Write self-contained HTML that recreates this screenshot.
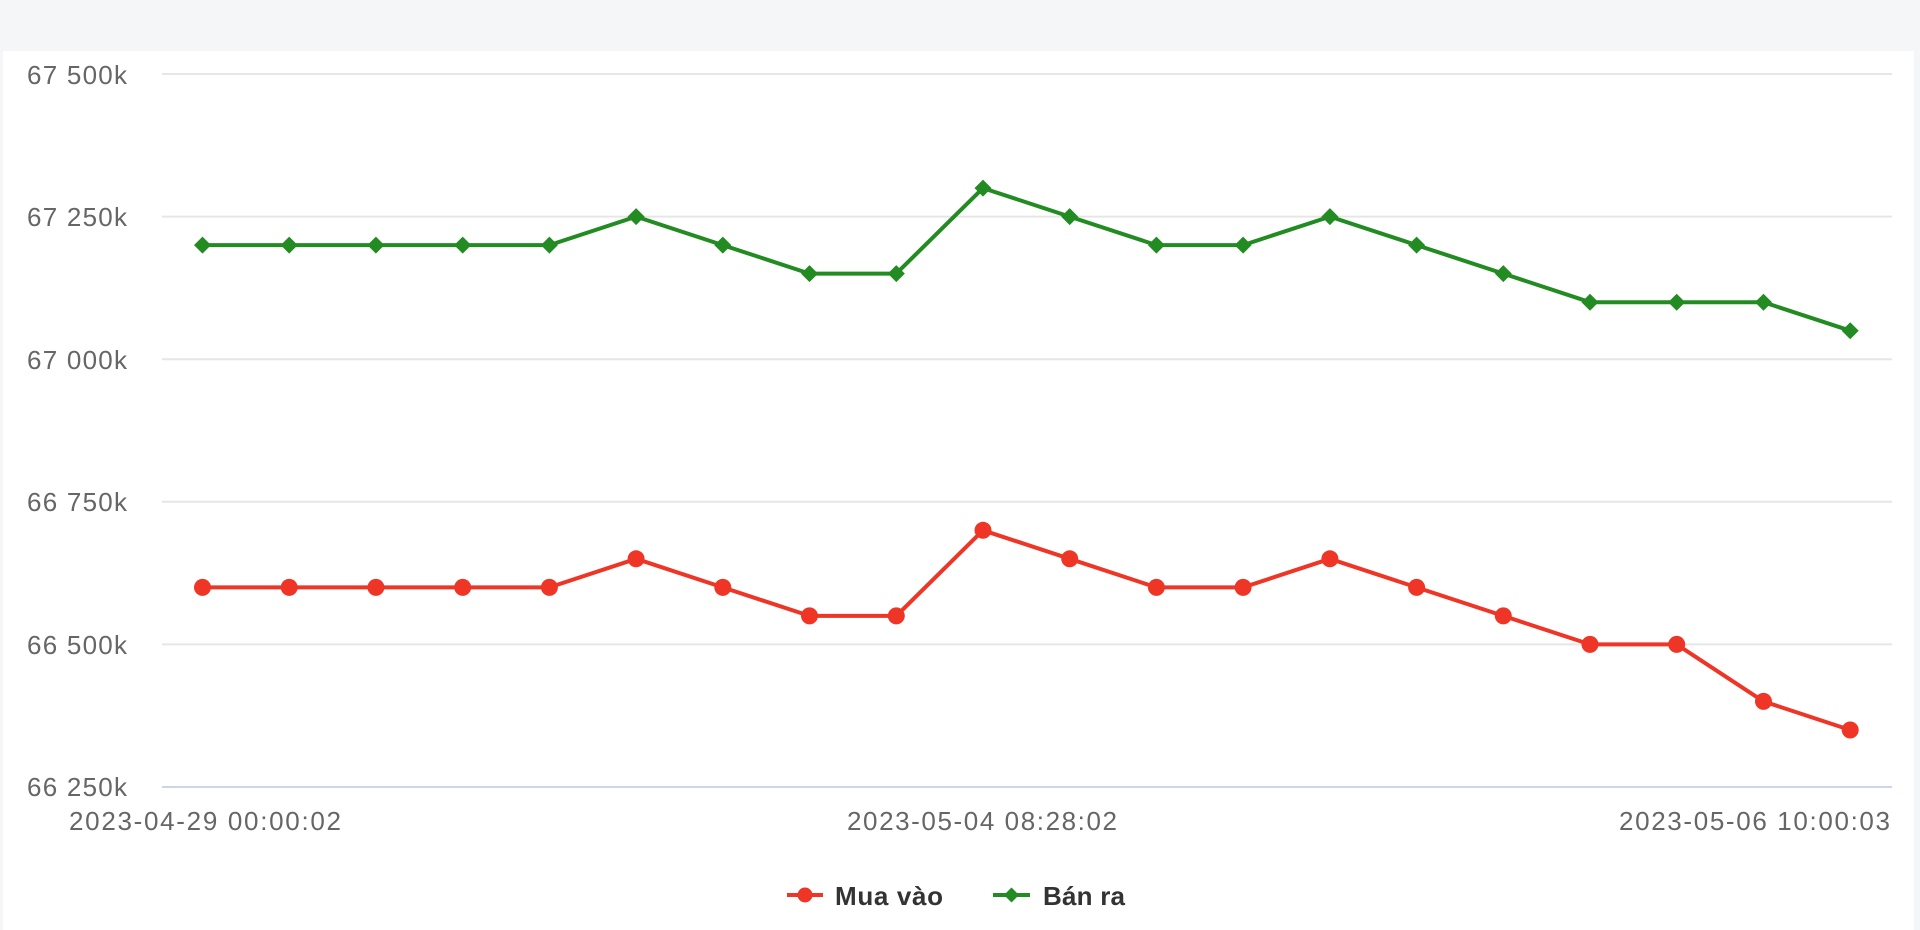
<!DOCTYPE html>
<html>
<head>
<meta charset="utf-8">
<style>
html,body{margin:0;padding:0;width:1920px;height:930px;overflow:hidden;background:#f5f6f8;}
svg{display:block;}
text{font-family:"Liberation Sans",sans-serif;}
</style>
</head>
<body>
<svg width="1920" height="930" viewBox="0 0 1920 930" xmlns="http://www.w3.org/2000/svg">
  <rect x="0" y="0" width="1920" height="930" fill="#f5f6f8"/>
  <rect x="3" y="51" width="1911" height="879" fill="#ffffff"/>

  <!-- gridlines -->
  <g stroke="#e6e6e6" stroke-width="2">
    <line x1="162" y1="74" x2="1892" y2="74"/>
    <line x1="162" y1="216.6" x2="1892" y2="216.6"/>
    <line x1="162" y1="359.2" x2="1892" y2="359.2"/>
    <line x1="162" y1="501.8" x2="1892" y2="501.8"/>
    <line x1="162" y1="644.4" x2="1892" y2="644.4"/>
  </g>
  <line x1="162" y1="787" x2="1892" y2="787" stroke="#ccd6eb" stroke-width="2"/>

  <!-- y labels -->
  <g fill="#666666" font-size="26" text-anchor="end">
    <text x="127" y="84" textLength="100" lengthAdjust="spacing">67 500k</text>
    <text x="127" y="226" textLength="100" lengthAdjust="spacing">67 250k</text>
    <text x="127" y="369" textLength="100" lengthAdjust="spacing">67 000k</text>
    <text x="127" y="511" textLength="100" lengthAdjust="spacing">66 750k</text>
    <text x="127" y="654" textLength="100" lengthAdjust="spacing">66 500k</text>
    <text x="127" y="796" textLength="100" lengthAdjust="spacing">66 250k</text>
  </g>

  <!-- x labels -->
  <g fill="#666666" font-size="26">
    <text x="69" y="830" textLength="272" lengthAdjust="spacing">2023-04-29 00:00:02</text>
    <text x="847" y="830" textLength="270" lengthAdjust="spacing">2023-05-04 08:28:02</text>
    <text x="1619" y="830" textLength="271" lengthAdjust="spacing">2023-05-06 10:00:03</text>
  </g>

  <!-- Bán ra (green) -->
  <polyline fill="none" stroke="#228b22" stroke-width="4" stroke-linejoin="round"
    points="202.5,245.1 289.2,245.1 375.9,245.1 462.7,245.1 549.4,245.1 636.1,216.6 722.8,245.1 809.5,273.6 896.3,273.6 983.0,188.1 1069.7,216.6 1156.4,245.1 1243.1,245.1 1329.9,216.6 1416.6,245.1 1503.3,273.6 1590.0,302.2 1676.7,302.2 1763.5,302.2 1850.2,330.7"/>
  <g fill="#228b22">
    <path d="M202.5,236.6 l8.5,8.5 l-8.5,8.5 l-8.5,-8.5z"/>
    <path d="M289.2,236.6 l8.5,8.5 l-8.5,8.5 l-8.5,-8.5z"/>
    <path d="M375.9,236.6 l8.5,8.5 l-8.5,8.5 l-8.5,-8.5z"/>
    <path d="M462.7,236.6 l8.5,8.5 l-8.5,8.5 l-8.5,-8.5z"/>
    <path d="M549.4,236.6 l8.5,8.5 l-8.5,8.5 l-8.5,-8.5z"/>
    <path d="M636.1,208.1 l8.5,8.5 l-8.5,8.5 l-8.5,-8.5z"/>
    <path d="M722.8,236.6 l8.5,8.5 l-8.5,8.5 l-8.5,-8.5z"/>
    <path d="M809.5,265.1 l8.5,8.5 l-8.5,8.5 l-8.5,-8.5z"/>
    <path d="M896.3,265.1 l8.5,8.5 l-8.5,8.5 l-8.5,-8.5z"/>
    <path d="M983.0,179.6 l8.5,8.5 l-8.5,8.5 l-8.5,-8.5z"/>
    <path d="M1069.7,208.1 l8.5,8.5 l-8.5,8.5 l-8.5,-8.5z"/>
    <path d="M1156.4,236.6 l8.5,8.5 l-8.5,8.5 l-8.5,-8.5z"/>
    <path d="M1243.1,236.6 l8.5,8.5 l-8.5,8.5 l-8.5,-8.5z"/>
    <path d="M1329.9,208.1 l8.5,8.5 l-8.5,8.5 l-8.5,-8.5z"/>
    <path d="M1416.6,236.6 l8.5,8.5 l-8.5,8.5 l-8.5,-8.5z"/>
    <path d="M1503.3,265.1 l8.5,8.5 l-8.5,8.5 l-8.5,-8.5z"/>
    <path d="M1590.0,293.7 l8.5,8.5 l-8.5,8.5 l-8.5,-8.5z"/>
    <path d="M1676.7,293.7 l8.5,8.5 l-8.5,8.5 l-8.5,-8.5z"/>
    <path d="M1763.5,293.7 l8.5,8.5 l-8.5,8.5 l-8.5,-8.5z"/>
    <path d="M1850.2,322.2 l8.5,8.5 l-8.5,8.5 l-8.5,-8.5z"/>
  </g>

  <!-- Mua vào (red) -->
  <polyline fill="none" stroke="#ee3526" stroke-width="4" stroke-linejoin="round"
    points="202.5,587.4 289.2,587.4 375.9,587.4 462.7,587.4 549.4,587.4 636.1,558.8 722.8,587.4 809.5,615.9 896.3,615.9 983.0,530.3 1069.7,558.8 1156.4,587.4 1243.1,587.4 1329.9,558.8 1416.6,587.4 1503.3,615.9 1590.0,644.4 1676.7,644.4 1763.5,701.4 1850.2,730.0"/>
  <g fill="#ee3526">
    <circle cx="202.5" cy="587.4" r="8.5"/>
    <circle cx="289.2" cy="587.4" r="8.5"/>
    <circle cx="375.9" cy="587.4" r="8.5"/>
    <circle cx="462.7" cy="587.4" r="8.5"/>
    <circle cx="549.4" cy="587.4" r="8.5"/>
    <circle cx="636.1" cy="558.8" r="8.5"/>
    <circle cx="722.8" cy="587.4" r="8.5"/>
    <circle cx="809.5" cy="615.9" r="8.5"/>
    <circle cx="896.3" cy="615.9" r="8.5"/>
    <circle cx="983.0" cy="530.3" r="8.5"/>
    <circle cx="1069.7" cy="558.8" r="8.5"/>
    <circle cx="1156.4" cy="587.4" r="8.5"/>
    <circle cx="1243.1" cy="587.4" r="8.5"/>
    <circle cx="1329.9" cy="558.8" r="8.5"/>
    <circle cx="1416.6" cy="587.4" r="8.5"/>
    <circle cx="1503.3" cy="615.9" r="8.5"/>
    <circle cx="1590.0" cy="644.4" r="8.5"/>
    <circle cx="1676.7" cy="644.4" r="8.5"/>
    <circle cx="1763.5" cy="701.4" r="8.5"/>
    <circle cx="1850.2" cy="730.0" r="8.5"/>
  </g>

  <!-- legend -->
  <line x1="787" y1="895" x2="823" y2="895" stroke="#ee3526" stroke-width="4"/>
  <circle cx="805" cy="895" r="7.5" fill="#ee3526"/>
  <text x="835" y="905" font-size="26" font-weight="bold" fill="#333333" textLength="108" lengthAdjust="spacing">Mua vào</text>
  <line x1="993" y1="895" x2="1030" y2="895" stroke="#228b22" stroke-width="4"/>
  <path d="M1011.5,887.5 l7.5,7.5 l-7.5,7.5 l-7.5,-7.5z" fill="#228b22"/>
  <text x="1043" y="905" font-size="26" font-weight="bold" fill="#333333" textLength="82" lengthAdjust="spacing">Bán ra</text>
</svg>
</body>
</html>
